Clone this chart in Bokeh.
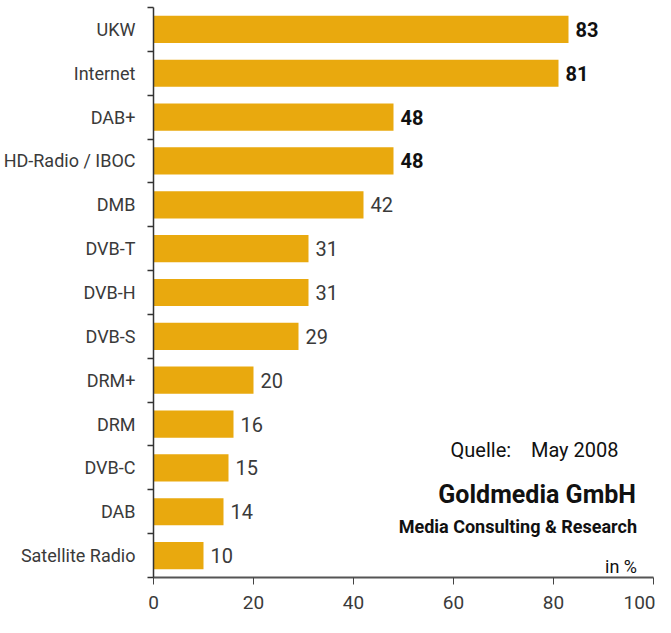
from bokeh.plotting import figure
from bokeh.models import Range1d, FixedTicker, ColumnDataSource, Label
from bokeh.core.properties import value
from bokeh.embed import file_html
from bokeh.resources import INLINE

categories = ["UKW", "Internet", "DAB+", "HD-Radio / IBOC", "DMB", "DVB-T", "DVB-H",
              "DVB-S", "DRM+", "DRM", "DVB-C", "DAB", "Satellite Radio"]
values = [83, 81, 48, 48, 42, 31, 31, 29, 20, 16, 15, 14, 10]
bold_flags = [True, True, True, True] + [False] * 9
x_ticks = [0, 20, 40, 60, 80, 100]

FONT = "Roboto"
BAR = "#E9A90E"
TXT = "#3a3a3a"

idx = list(range(len(categories)))

p = figure(width=655, height=617, output_backend="svg", toolbar_location=None,
           x_range=Range1d(0, 100), y_range=Range1d(len(categories) - 0.5, -0.5),
           min_border_left=146, min_border_right=2, min_border_top=7, min_border_bottom=40)
p.outline_line_color = None
p.xgrid.visible = False
p.ygrid.visible = False
p.background_fill_color = "white"

src = ColumnDataSource(dict(y=idx, v=values))
p.hbar(y="y", right="v", left=0, height=0.62, source=src, fill_color=BAR, line_color=None)

# value labels, bold for top four
for b in (True, False):
    sub = ColumnDataSource(dict(y=[i for i in idx if bold_flags[i] == b],
                                v=[values[i] for i in idx if bold_flags[i] == b],
                                lab=[str(values[i]) for i in idx if bold_flags[i] == b]))
    p.text(x="v", y="y", text="lab", source=sub, x_offset=7, text_align="left", text_baseline="middle",
           text_font=value(FONT), text_font_size="20px",
           text_font_style="bold" if b else "normal", text_color="#111" if b else TXT)

# x axis
xa = p.xaxis[0]
xa.ticker = FixedTicker(ticks=x_ticks)
xa.axis_line_color = "#555555"
xa.axis_line_width = 2
xa.major_tick_line_color = "#444444"
xa.major_tick_in = 0
xa.major_tick_out = 7
xa.minor_tick_line_color = None
xa.major_label_text_font = FONT
xa.major_label_text_font_size = "19px"
xa.major_label_text_color = TXT
xa.major_label_standoff = 11

# y axis: labels at centres, ticks at boundaries
ya = p.yaxis[0]
ya.ticker = FixedTicker(ticks=idx, minor_ticks=[i - 0.5 for i in range(len(categories) + 1)])
ya.major_label_overrides = {i: c for i, c in enumerate(categories)}
ya.major_tick_line_color = None
ya.minor_tick_line_color = "#333333"
ya.minor_tick_in = 0
ya.minor_tick_out = 6
ya.minor_tick_line_width = 1.5
ya.axis_line_color = "#333333"
ya.axis_line_width = 1.5
ya.major_label_text_font = FONT
ya.major_label_text_font_size = "18px"
ya.major_label_text_color = TXT
ya.major_label_standoff = 12

def lab(x, y, t, size, bold=False):
    p.add_layout(Label(x=x, y=y, text=t, text_align="right", text_baseline="middle",
                       text_font=FONT, text_font_size=size, text_color="#111",
                       text_font_style="bold" if bold else "normal"))

lab(93.0, 9.6, "Quelle:\u00a0\u00a0\u00a0\u00a0May 2008", "20px")
lab(96.5, 10.6, "Goldmedia GmbH", "25px", True)
lab(96.7, 11.33, "Media Consulting & Research", "18px", True)
lab(96.7, 12.25, "in %", "18px")

open("out.html", "w").write(file_html(p, INLINE))
